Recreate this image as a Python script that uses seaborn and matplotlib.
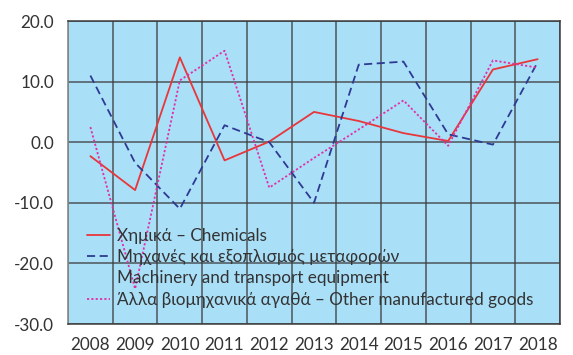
import numpy as np
import pandas as pd
import matplotlib
matplotlib.use("Agg")
import matplotlib.pyplot as plt
from matplotlib.lines import Line2D
import seaborn as sns
from matplotlib.ticker import FixedLocator

years = ["2008", "2009", "2010", "2011", "2012", "2013", "2014", "2015", "2016", "2017", "2018"]
chemicals = [-2.3, -7.9, 14.0, -3.0, 0.1, 5.0, 3.5, 1.5, 0.2, 12.0, 13.7]
machinery = [11.0, -3.4, -11.0, 2.8, 0.0, -10.0, 12.8, 13.3, 1.3, -0.4, 13.2]
other_goods = [2.5, -24.2, 10.2, 15.1, -7.5, -2.6, 2.1, 6.9, -0.6, 13.5, 12.3]

series_names = [
    "Χημικά – Chemicals",
    "Μηχανές και εξοπλισμός μεταφορών",
    "Άλλα βιομηχανικά αγαθά – Other manufactured goods",
]
machinery_second_line = "Machinery and transport equipment"
series_values = [chemicals, machinery, other_goods]

rows = []
for name, vals in zip(series_names, series_values):
    for i, (yr, v) in enumerate(zip(years, vals)):
        rows.append({"pos": i, "year": yr, "value": v, "series": name})
df = pd.DataFrame(rows)

sns.set_theme(style="white")
plt.rcParams["font.family"] = ["Lato", "DejaVu Sans"]

text_color = "#333333"
grid_color = "#3c3c3c"
fs = 12.3

fig = plt.figure(figsize=(5.73, 3.55), dpi=100)
ax = fig.add_axes([0.1187, 0.0873, 0.8586, 0.8535])
ax.set_facecolor("#aadff8")

colors = ["#e8363a", "#2e3a92", "#e030a8"]
dash_list = ["", (4.5, 2.5), (1.2, 1.2)]
palette = dict(zip(series_names, colors))
dashes = dict(zip(series_names, dash_list))

sns.lineplot(data=df, x="pos", y="value", hue="series", style="series",
             palette=palette, dashes=dashes, linewidth=1.3, ax=ax, zorder=3,
             legend=False)

ax.set_xlim(-0.5, len(years) - 0.5)
ax.set_ylim(-30, 20)
ax.set_xticks(range(len(years)))
ax.set_xticklabels(years)
ax.xaxis.set_minor_locator(FixedLocator(np.arange(-0.5, len(years), 1.0)))
ax.set_yticks(np.arange(-30, 21, 10))
ax.set_yticklabels([f"{v:.1f}" for v in np.arange(-30, 21, 10)])
ax.set_xlabel("")
ax.set_ylabel("")

ax.grid(False)
ax.grid(axis="x", which="minor", color=grid_color, linewidth=1.1, alpha=0.85, zorder=1)
ax.grid(axis="y", which="major", color=grid_color, linewidth=1.1, alpha=0.85, zorder=1)
ax.set_axisbelow(True)

ax.tick_params(axis="x", which="both", length=0, pad=9, labelsize=fs, labelcolor=text_color)
ax.tick_params(axis="y", which="major", length=8, width=1.1, color=grid_color,
               pad=2, labelsize=fs, labelcolor=text_color)

ax.spines["left"].set_color("#8a8a8a")
ax.spines["left"].set_linewidth(1.2)
for side in ["right", "bottom", "top"]:
    ax.spines[side].set_color(grid_color)
    ax.spines[side].set_linewidth(1.1)

# legend: the machinery entry wraps onto a second line with no handle
handles = [Line2D([], [], color=c, linewidth=1.3,
                  linestyle="-" if d == "" else (0, d)) for c, d in zip(colors, dash_list)]
blank = Line2D([], [], color="none")
leg_handles = [handles[0], handles[1], blank, handles[2]]
leg_labels = [series_names[0], series_names[1], machinery_second_line, series_names[2]]
leg = ax.legend(leg_handles, leg_labels, loc="lower left", bbox_to_anchor=(0.039, 0.053),
                frameon=False, fontsize=fs, handlelength=1.35, handletextpad=0.4,
                labelspacing=0.32, borderaxespad=0.0, borderpad=0.0)
for t in leg.get_texts():
    t.set_color(text_color)

fig.savefig("out.png", dpi=100)
